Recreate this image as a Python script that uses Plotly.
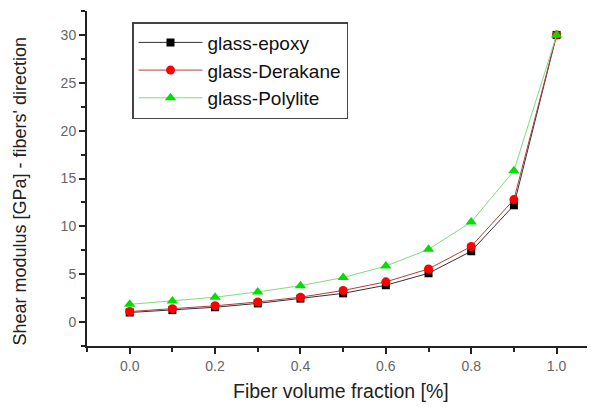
import plotly.graph_objects as go

fiber_fraction = [0.0, 0.1, 0.2, 0.3, 0.4, 0.5, 0.6, 0.7, 0.8, 0.9, 1.0]
glass_epoxy = [1.0, 1.25, 1.55, 1.95, 2.45, 3.0, 3.85, 5.1, 7.4, 12.2, 30.0]
glass_derakane = [1.1, 1.4, 1.7, 2.1, 2.6, 3.3, 4.2, 5.55, 7.9, 12.8, 30.0]
glass_polylite = [1.85, 2.2, 2.6, 3.15, 3.8, 4.65, 5.85, 7.6, 10.45, 15.8, 30.0]

x_ticks = [0.0, 0.2, 0.4, 0.6, 0.8, 1.0]
y_ticks = [0, 5, 10, 15, 20, 25, 30]
x_title = "Fiber volume fraction [%]"
y_title = "Shear modulus [GPa] - fibers' direction"

FONT = "Arial, Liberation Sans, sans-serif"

fig = go.Figure()
fig.add_trace(go.Scatter(x=fiber_fraction, y=glass_epoxy, mode="lines+markers",
                         name="glass-epoxy",
                         line=dict(color="#333333", width=1),
                         marker=dict(symbol="square", size=8, color="black")))
fig.add_trace(go.Scatter(x=fiber_fraction, y=glass_derakane, mode="lines+markers",
                         name="glass-Derakane",
                         line=dict(color="#b04040", width=1),
                         marker=dict(symbol="circle", size=9, color="#ff0000")))
fig.add_trace(go.Scatter(x=fiber_fraction, y=glass_polylite, mode="lines+markers",
                         name="glass-Polylite",
                         line=dict(color="#7fdc7f", width=1),
                         marker=dict(symbol="triangle-up", size=10, color="#00e000")))

axis_common = dict(showline=True, linecolor="#222222", linewidth=2, ticks="outside",
                   tickcolor="#222222", ticklen=6, tickwidth=1.5, showgrid=False, zeroline=False,
                   automargin=False,
                   tickfont=dict(family=FONT, size=14, color="#666666"))

fig.update_xaxes(range=[-0.1, 1.09], tickvals=x_ticks, ticktext=[f"{v:.1f}" for v in x_ticks],
                 minor=dict(ticks="outside", ticklen=4, tickcolor="#222222", tickwidth=1.5,
                            dtick=0.1, tick0=0),
                 **axis_common)
fig.update_yaxes(range=[-2.5, 32.5], tickvals=y_ticks,
                 minor=dict(ticks="outside", ticklen=4, tickcolor="#222222", tickwidth=1.5,
                            dtick=2.5, tick0=0),
                 **axis_common)

fig.add_annotation(text=x_title, xref="paper", yref="paper", x=0.5, y=0,
                   xanchor="center", yanchor="middle", yshift=-45, showarrow=False,
                   font=dict(family=FONT, size=19.5, color="#222222"))
fig.add_annotation(text=y_title, xref="paper", yref="paper", x=0, y=0.461,
                   xanchor="center", yanchor="middle", xshift=-67, textangle=-90,
                   showarrow=False,
                   font=dict(family=FONT, size=18, color="#222222"))

fig.update_layout(
    width=595, height=407,
    margin=dict(l=79, r=8, t=3, b=69),
    plot_bgcolor="white", paper_bgcolor="white",
    showlegend=True,
    legend=dict(x=0.0886, y=0.967, xanchor="left", yanchor="top",
                bordercolor="#444444", borderwidth=1.5, bgcolor="white",
                font=dict(family=FONT, size=19, color="#111111"),
                itemwidth=64, tracegroupgap=0),
)

fig.write_html("out.html")
